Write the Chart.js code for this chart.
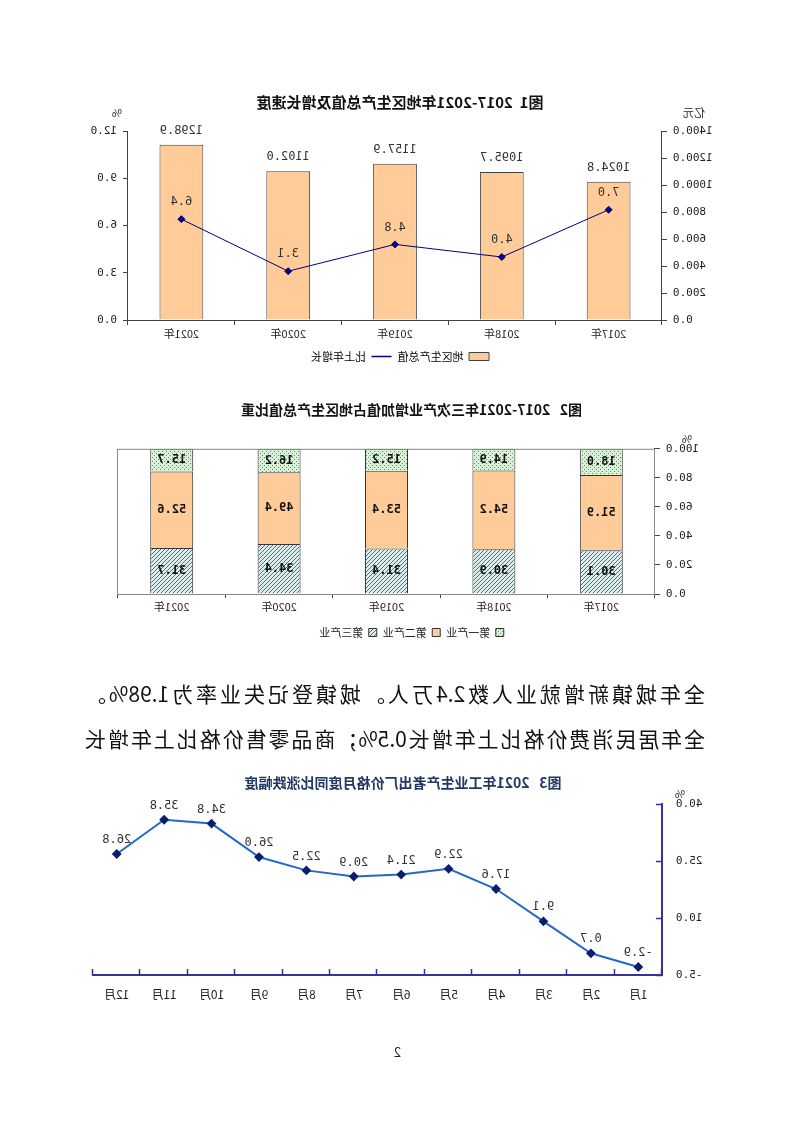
<!DOCTYPE html>
<html>
<head>
<meta charset="utf-8">
<script src="https://cdn.jsdelivr.net/npm/chart.js@4.4.1/dist/chart.umd.min.js"></script>
<style>
  html, body { margin: 0; padding: 0; background: #fff; }
  #page {
    position: relative; width: 793px; height: 1122px; overflow: hidden;
    transform: scaleX(-1); /* the reference page is mirrored left-right */
    font-family: "Noto Sans CJK SC", sans-serif; color: #111;
  }
  .box { position: absolute; }
  .unit { position: absolute; font-size: 11px; color: #222; }
  .para {
    position: absolute; left: 88px; width: 620px; font-size: 21px;
    text-align: justify; text-align-last: justify; line-height: 26px;
  }
</style>
</head>
<body>
<div id="page">
  <div class="box" style="left:78px;top:85px;width:630px;height:295px"><canvas id="gdpChart"></canvas></div>
  <div class="unit" style="left:88px;top:104px">亿元</div>
  <div class="unit" style="left:671px;top:104px">%</div>

  <div class="box" style="left:88px;top:393px;width:610px;height:272px"><canvas id="shareChart"></canvas></div>
  <div class="unit" style="left:101px;top:430px">%</div>

  <div class="para" style="top:680px">全年城镇新增就业人数2.4万人。城镇登记失业率为1.98%。</div>
  <div class="para" style="top:725px">全年居民消费价格比上年增长0.5%；商品零售价格比上年增长</div>

  <div class="box" style="left:80px;top:762px;width:630px;height:266px"><canvas id="ppiChart"></canvas></div>
  <div class="unit" style="left:108px;top:785px">%</div>

  <div class="unit" style="left:392px;top:1042px;font-size:13px">2</div>
</div>
<script>
// figure 1: GDP and growth
const years = ['2017年', '2018年', '2019年', '2020年', '2021年'];
const gdpValues = [1024.8, 1095.7, 1157.9, 1102.0, 1298.9];
const gdpGrowth = [7.0, 4.0, 4.8, 3.1, 6.4];
const gdpTicks = [0, 200, 400, 600, 800, 1000, 1200, 1400];
const growthTicks = [0, 3, 6, 9, 12];

// figure 2: industry shares (%)
const industryNames = ['第一产业', '第二产业', '第三产业'];
const primaryShare = [18.0, 14.9, 15.2, 16.2, 15.7];
const secondaryShare = [51.9, 54.2, 53.4, 49.4, 52.6];
const tertiaryShare = [30.1, 30.9, 31.4, 34.4, 31.7];

// figure 3: PPI monthly yoy
const months = ['1月', '2月', '3月', '4月', '5月', '6月', '7月', '8月', '9月', '10月', '11月', '12月'];
const ppiValues = [-2.9, 0.7, 9.1, 17.6, 22.9, 21.4, 20.9, 22.5, 26.0, 34.8, 35.8, 26.8];
const ppiTicks = [-5, 10, 25, 40];

const numFont = { family: '"DejaVu Sans Mono", monospace', size: 11 };
const cjkFont = '"Noto Sans CJK SC", sans-serif';

// draws value labels next to bars / points
function valueLabels(id, opts) {
  return {
    id: id,
    afterDatasetsDraw(chart) {
      const ctx = chart.ctx;
      chart.data.datasets.forEach((ds, i) => {
        const meta = chart.getDatasetMeta(i);
        const o = opts[i];
        if (!o) return;
        meta.data.forEach((el, j) => {
          const v = ds.data[j];
          let y;
          if (o.mode === 'center') y = (el.y + el.base) / 2;
          else y = el.y - o.dy;
          ctx.save();
          ctx.font = o.font;
          ctx.fillStyle = o.color;
          ctx.textAlign = 'center';
          ctx.textBaseline = 'middle';
          ctx.fillText(v.toFixed(1), el.x, y);
          ctx.restore();
        });
      });
    }
  };
}

const plotBorder = {
  id: 'plotBorder',
  afterDraw(chart) {
    const a = chart.chartArea, ctx = chart.ctx;
    ctx.save();
    ctx.strokeStyle = '#888';
    ctx.lineWidth = 1;
    ctx.strokeRect(a.left + 0.5, a.top + 0.5, a.right - a.left, a.bottom - a.top);
    ctx.restore();
  }
};

// tick marks pointing into the plot (figure 3 style)
const innerTicks = {
  id: 'innerTicks',
  afterDraw(chart) {
    const ctx = chart.ctx, x = chart.scales.x, y = chart.scales.y;
    const half = (x.getPixelForValue(1) - x.getPixelForValue(0)) / 2;
    ctx.save();
    ctx.strokeStyle = '#333399';
    ctx.lineWidth = 1.5;
    ctx.beginPath();
    for (let i = 0; i <= months.length; i++) {
      const px = Math.round(x.getPixelForValue(i) - half) + 0.5;
      ctx.moveTo(px, x.top); ctx.lineTo(px, x.top - 6);
    }
    y.ticks.forEach(t => {
      const py = Math.round(y.getPixelForValue(t.value)) + 0.5;
      ctx.moveTo(y.right, py); ctx.lineTo(y.right + 6, py);
    });
    ctx.stroke();
    ctx.restore();
  }
};

function makePattern(base, ink, draw) {
  const c = document.createElement('canvas');
  c.width = 4; c.height = 4;
  const g = c.getContext('2d');
  g.fillStyle = base; g.fillRect(0, 0, 4, 4);
  g.fillStyle = ink; draw(g);
  return g.createPattern(c, 'repeat');
}
const dotFill = makePattern('#D8F2D8', '#4C9A5C', g => { g.fillRect(0, 0, 1, 1); g.fillRect(2, 2, 1, 1); });
const hatchFill = makePattern('#DCEDED', '#2E7F80', g => { for (let i = 0; i < 4; i++) g.fillRect(i, i, 1, 1); });

Chart.defaults.animation = false;
Chart.defaults.font.family = cjkFont;
Chart.defaults.color = '#222';

new Chart(document.getElementById('gdpChart'), {
  data: {
    labels: years,
    datasets: [
      {
        type: 'line', label: '比上年增长', data: gdpGrowth, yAxisID: 'yPct',
        borderColor: '#000080', backgroundColor: '#000080', borderWidth: 1,
        pointStyle: 'rectRot', pointRadius: 3.5, pointBackgroundColor: '#000080', order: 0
      },
      {
        type: 'bar', label: '地区生产总值', data: gdpValues, yAxisID: 'yGdp',
        backgroundColor: '#FFCC99', borderColor: '#444', borderWidth: 1,
        categoryPercentage: 1, barPercentage: 0.41, order: 1
      }
    ]
  },
  options: {
    responsive: true, maintainAspectRatio: false,
    layout: { padding: { left: 0, right: 0, top: 0, bottom: 8 } },
    scales: {
      x: {
        grid: { offset: true, drawOnChartArea: false, tickLength: 5, color: '#444' },
        border: { color: '#444' },
        ticks: { font: { family: cjkFont, size: 11 }, padding: 2 },
        afterFit: s => { s.height = 25; }
      },
      yGdp: {
        position: 'left', min: 0, max: 1400,
        afterBuildTicks: s => { s.ticks = gdpTicks.map(v => ({ value: v })); },
        ticks: { font: numFont, callback: v => v.toFixed(1), padding: 6 },
        grid: { drawOnChartArea: false, tickLength: 5, color: '#444' },
        border: { color: '#444' },
        afterFit: s => { s.width = 53; }
      },
      yPct: {
        position: 'right', min: 0, max: 12,
        afterBuildTicks: s => { s.ticks = growthTicks.map(v => ({ value: v })); },
        ticks: { font: numFont, callback: v => v.toFixed(1), padding: 6 },
        grid: { drawOnChartArea: false, tickLength: 5, color: '#444' },
        border: { color: '#444' },
        afterFit: s => { s.width = 43; }
      }
    },
    plugins: {
      title: {
        display: true, text: '图1  2017-2021年地区生产总值及增长速度', color: '#111',
        font: { family: cjkFont, size: 15, weight: 'bold' }, padding: { top: 8, bottom: 20 }
      },
      legend: {
        position: 'bottom', reverse: true,
        labels: {
          usePointStyle: true, pointStyleWidth: 20, boxHeight: 8, padding: 6,
          font: { family: cjkFont, size: 11 }, color: '#222',
          generateLabels: chart => chart.data.datasets.map((ds, i) => ({
            text: ds.label, datasetIndex: i,
            fillStyle: ds.backgroundColor, strokeStyle: ds.type === 'line' ? '#000080' : '#444',
            lineWidth: ds.type === 'line' ? 1.5 : 1,
            pointStyle: ds.type === 'line' ? 'line' : 'rect'
          }))
        }
      },
      tooltip: { enabled: false }
    }
  },
  plugins: [valueLabels('gdpLabels', [
    { dy: 17, font: '12px "DejaVu Sans Mono", monospace', color: '#333' },
    { dy: 14, font: '12px "DejaVu Sans Mono", monospace', color: '#333' }
  ])]
});

new Chart(document.getElementById('shareChart'), {
  type: 'bar',
  data: {
    labels: years,
    datasets: [
      { label: industryNames[2], data: tertiaryShare, backgroundColor: hatchFill },
      { label: industryNames[1], data: secondaryShare, backgroundColor: '#FFCC99' },
      { label: industryNames[0], data: primaryShare, backgroundColor: dotFill }
    ].map(d => Object.assign(d, { borderColor: '#333', borderWidth: 1, categoryPercentage: 1, barPercentage: 0.4 }))
  },
  options: {
    responsive: true, maintainAspectRatio: false,
    layout: { padding: { left: 0, right: 23, top: 0, bottom: 17 } },
    scales: {
      x: {
        stacked: true,
        grid: { offset: true, drawOnChartArea: false, tickLength: 4, color: '#444' },
        border: { color: '#444' },
        ticks: { font: { family: cjkFont, size: 11 }, padding: 2 },
        afterFit: s => { s.height = 27; }
      },
      y: {
        stacked: true, min: 0, max: 100,
        ticks: { stepSize: 20, font: numFont, callback: v => v.toFixed(1), padding: 6 },
        grid: { drawOnChartArea: false, tickLength: 5, color: '#444' },
        border: { color: '#444' },
        afterFit: s => { s.width = 50; }
      }
    },
    plugins: {
      title: {
        display: true, text: '图2   2017-2021年三次产业增加值占地区生产总值比重', color: '#111',
        font: { family: cjkFont, size: 14, weight: 'bold' }, padding: { top: 8, bottom: 31 }
      },
      legend: {
        position: 'bottom', reverse: true,
        labels: { boxWidth: 8, boxHeight: 8, padding: 6, font: { family: cjkFont, size: 11 }, color: '#222' }
      },
      tooltip: { enabled: false }
    }
  },
  plugins: [plotBorder, valueLabels('shareLabels', [0, 1, 2].map(() => (
    { mode: 'center', font: 'bold 12px "DejaVu Sans Mono", monospace', color: '#111' }
  )))]
});

new Chart(document.getElementById('ppiChart'), {
  type: 'line',
  data: {
    labels: months,
    datasets: [{
      label: 'PPI', data: ppiValues,
      borderColor: '#2468C8', borderWidth: 2, tension: 0,
      pointStyle: 'rectRot', pointRadius: 3.5, pointBackgroundColor: '#0A1E6E', pointBorderColor: '#0A1E6E'
    }]
  },
  options: {
    responsive: true, maintainAspectRatio: false,
    layout: { padding: { left: 0, right: 10, top: 0, bottom: 23 } },
    scales: {
      x: {
        offset: true,
        grid: { display: false },
        border: { display: true, color: '#333399', width: 2 },
        ticks: { font: { family: cjkFont, size: 12 }, padding: 4 },
        afterFit: s => { s.height = 30; }
      },
      y: {
        min: -5, max: 40,
        afterBuildTicks: s => { s.ticks = ppiTicks.map(v => ({ value: v })); },
        ticks: { font: numFont, callback: v => v.toFixed(1), padding: 6 },
        grid: { display: false },
        border: { display: true, color: '#333399', width: 2 },
        afterFit: s => { s.width = 51; }
      }
    },
    plugins: {
      title: {
        display: true, text: '图3   2021年工业生产者出厂价格月度同比涨跌幅度', color: '#1F3864',
        font: { family: cjkFont, size: 14, weight: 'bold' }, padding: { top: 12, bottom: 13 }
      },
      legend: { display: false },
      tooltip: { enabled: false }
    }
  },
  plugins: [innerTicks, valueLabels('ppiLabels', [
    { dy: 14, font: '12px "DejaVu Sans Mono", monospace', color: '#333' }
  ])]
});
</script>
</body>
</html>
